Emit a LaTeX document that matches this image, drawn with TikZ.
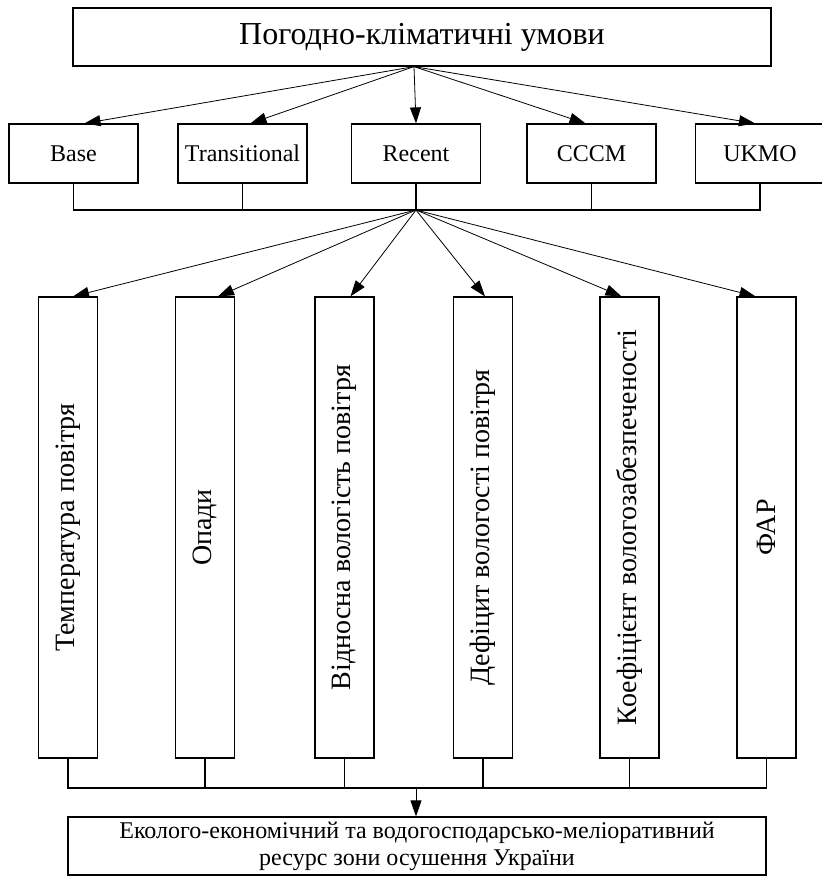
\documentclass[tikz,border=0pt]{standalone}
\usepackage{fontspec}
\usepackage{graphicx}
\setmainfont{Liberation Serif}
\usetikzlibrary{arrows.meta, positioning, calc}

\begin{document}
\begin{tikzpicture}[x=1pt, y=-1pt,
  box/.style={rectangle, draw=black, line width=1.2pt, fill=white, inner sep=0pt,
              font=\fontsize{24}{27}\selectfont, align=center},
  model/.style={box, minimum width=129pt, minimum height=59pt},
  param/.style={box, minimum width=59pt, minimum height=461pt,
                font=\fontsize{28}{30}\selectfont},
  arr/.style={-{Triangle[length=16pt, width=11pt]}, line width=0.8pt},
  bus/.style={line width=1.2pt},
]
\useasboundingbox (0,0) rectangle (822,876);

\node[box, minimum width=698pt, minimum height=58pt, font=\fontsize{32}{34}\selectfont]
  (pogoda) at (422,37) {Погодно-кліматичні умови};

\node[model] (base)   at (73.5,153.5) {Base};
\node[model] (trans)  at (242.5,153.5) {Transitional};
\node[model] (recent) at (416,153.5) {Recent};
\node[model] (cccm)   at (591.5,153.5) {CCCM};
\node[model] (ukmo)   at (760,153.5) {UKMO};

\draw[arr] ([xshift=-8pt]pogoda.south) -- ([xshift=11pt]base.north);
\draw[arr] ([xshift=-8pt]pogoda.south) -- ([xshift=8pt]trans.north);
\draw[arr] ([xshift=-8pt]pogoda.south) -- (recent.north);
\draw[arr] ([xshift=-8pt]pogoda.south) -- ([xshift=-6pt]cccm.north);
\draw[arr] ([xshift=-8pt]pogoda.south) -- ([xshift=-5pt]ukmo.north);

\coordinate (hub) at (416,210);
\draw[bus] (base.south) |- (hub);
\draw[bus] (trans.south) |- (hub);
\draw[bus] (recent.south) -- (hub);
\draw[bus] (cccm.south) |- (hub);
\draw[bus] (ukmo.south) |- (hub);

\node[param] (temp)  at (68,527.5)    {\rotatebox{90}{Температура повітря}};
\node[param] (opady) at (205,527.5)   {\rotatebox{90}{Опади}};
\node[param] (vidn)  at (344.5,527.5) {\rotatebox{90}{Відносна вологість повітря}};
\node[param] (defic) at (483,527.5)   {\rotatebox{90}{Дефіцит вологості повітря}};
\node[param] (koef)  at (629.5,527.5) {\rotatebox{90}{Коефіцієнт вологозабезпеченості}};
\node[param] (far)   at (766.5,527.5) {\rotatebox{90}{ФАР}};

\draw[arr] (hub) -- ([xshift=5pt]temp.north);
\draw[arr] (hub) -- ([xshift=13pt]opady.north);
\draw[arr] (hub) -- ([xshift=6pt]vidn.north);
\draw[arr] (hub) -- ([xshift=2pt]defic.north);
\draw[arr] (hub) -- ([xshift=-8pt]koef.north);
\draw[arr] (hub) -- ([xshift=-11pt]far.north);

\node[box, minimum width=698pt, minimum height=58pt] (resurs) at (417,846)
  {Еколого-економічний та водогосподарсько-меліоративний\\ресурс зони осушення України};

\coordinate (hubb) at (416,788);
\draw[bus] (temp.south) |- (hubb);
\draw[bus] (opady.south) |- (hubb);
\draw[bus] (vidn.south) |- (hubb);
\draw[bus] (defic.south) |- (hubb);
\draw[bus] (koef.south) |- (hubb);
\draw[bus] (far.south) |- (hubb);
\draw[arr] (hubb) -- (hubb |- resurs.north);
\end{tikzpicture}
\end{document}
